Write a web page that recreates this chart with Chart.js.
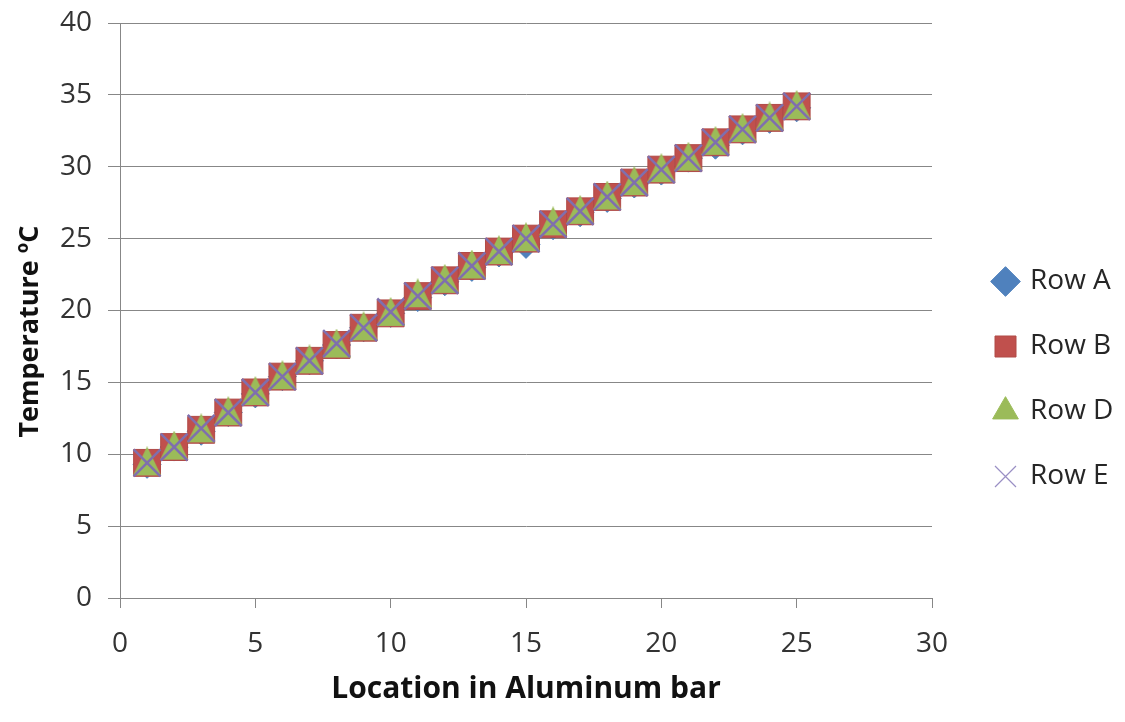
<!DOCTYPE html>
<html>
<head>
<meta charset="utf-8">
<script src="https://cdn.jsdelivr.net/npm/chart.js@4"></script>
<style>
  html, body { margin: 0; padding: 0; background: #fff; }
</style>
</head>
<body>
<canvas id="myChart" width="1125" height="722"></canvas>
<script>
'use strict';

// location along the bar
var locations = [1, 2, 3, 4, 5, 6, 7, 8, 9, 10, 11, 12, 13, 14, 15, 16, 17, 18, 19, 20, 21, 22, 23, 24, 25];

// temperatures per row (deg C)
var rowA = [9.3, 10.5, 11.6, 12.9, 14.2, 15.4, 16.5, 17.6, 18.8, 19.8, 20.9, 22.0, 23.0, 24.0, 24.6, 25.9, 26.8, 27.8, 28.8, 29.7, 30.6, 31.5, 32.5, 33.3, 34.1];
var rowB = [9.4, 10.5, 11.7, 12.9, 14.3, 15.4, 16.5, 17.6, 18.8, 19.8, 21.0, 22.1, 23.1, 24.1, 25.0, 26.0, 26.9, 27.9, 28.9, 29.8, 30.6, 31.7, 32.6, 33.4, 34.2];
var rowD = [9.5, 10.6, 11.8, 13.0, 14.4, 15.5, 16.6, 17.7, 18.9, 19.9, 21.2, 22.2, 23.2, 24.2, 25.1, 26.2, 27.0, 28.0, 29.0, 29.9, 30.7, 31.8, 32.7, 33.5, 34.3];
var rowE = [9.4, 10.5, 11.8, 12.9, 14.3, 15.4, 16.5, 17.7, 18.8, 19.9, 21.0, 22.1, 23.1, 24.1, 25.0, 26.0, 26.9, 27.9, 28.9, 29.8, 30.6, 31.7, 32.6, 33.4, 34.2];

var seriesNames = ['Row A', 'Row B', 'Row D', 'Row E'];
var colors = ['#4F81BD', '#C0504D', '#9BBB59', '#7F6FAE'];

// axis ticks
var xTicks = { min: 0, max: 30, step: 5 };
var yTicks = { min: 0, max: 40, step: 5 };

function points(ys) {
    return locations.map(function (x, i) { return { x: x, y: ys[i] }; });
}

// excel-like triangle marker (base sits at the bottom of the box)
var tri = document.createElement('canvas');
tri.width = 28;
tri.height = 30;
var tctx = tri.getContext('2d');
tctx.fillStyle = colors[2];
tctx.beginPath();
tctx.moveTo(14, 0);
tctx.lineTo(28, 29);
tctx.lineTo(0, 29);
tctx.closePath();
tctx.fill();

var tickFont = { family: 'Open Sans', size: 28, lineHeight: 1 };

// fixes the plot box and moves the legend where it sits in the original
var placeLegend = {
    id: 'placeLegend',
    beforeUpdate: function (chart) {
        var lg = chart.legend;
        if (lg && !lg._fixedFit) {
            var fit = lg.fit;
            lg.fit = function () {
                fit.call(this);
                this.width = 1125 - 932;
            };
            lg._fixedFit = true;
        }
    },
    afterLayout: function (chart) {
        var lg = chart.legend;
        lg.left += 26;
        lg.top += 14;
        lg.bottom += 14;
    }
};

var ctx = document.getElementById('myChart').getContext('2d');
var chart = new Chart(ctx, {
    type: 'scatter',
    data: {
        datasets: [{
            label: seriesNames[0],
            data: points(rowA),
            pointStyle: 'rectRot',
            pointRadius: 14,
            backgroundColor: colors[0],
            borderColor: colors[0],
            borderWidth: 1,
            order: 4
        }, {
            label: seriesNames[1],
            data: points(rowB),
            pointStyle: 'rect',
            pointRadius: 19,
            backgroundColor: colors[1],
            borderColor: '#B04A47',
            borderWidth: 1,
            order: 3
        }, {
            label: seriesNames[2],
            data: points(rowD),
            pointStyle: tri,
            pointRadius: 15,
            backgroundColor: colors[2],
            borderColor: colors[2],
            order: 2
        }, {
            label: seriesNames[3],
            data: points(rowE),
            pointStyle: 'crossRot',
            pointRadius: 19,
            backgroundColor: colors[3],
            borderColor: colors[3],
            borderWidth: 2.5,
            order: 1
        }]
    },
    options: {
        responsive: false,
        animation: false,
        layout: { padding: { left: 10, right: 0, top: 23, bottom: 15 } },
        plugins: {
            tooltip: { enabled: false },
            legend: {
                position: 'right',
                labels: {
                    usePointStyle: true,
                    boxWidth: 21,
                    boxHeight: 21,
                    padding: 37,
                    color: '#262626',
                    font: { family: 'Open Sans', size: 28 },
                    sort: function (a, b) { return a.datasetIndex - b.datasetIndex; },
                    generateLabels: function (chart) {
                        var items = Chart.defaults.plugins.legend.labels.generateLabels(chart);
                        items.forEach(function (it) {
                            if (it.datasetIndex === 2) it.pointStyle = 'triangle';
                            if (it.datasetIndex === 3) { it.lineWidth = 1.2; it.strokeStyle = '#9A8FC4'; }
                            if (it.datasetIndex === 0) it.rotation = 0;
                        });
                        return items;
                    }
                }
            }
        },
        scales: {
            x: {
                type: 'linear',
                min: xTicks.min,
                max: xTicks.max,
                afterFit: function (scale) { scale.height = 722 - 15 - 598; },
                ticks: { stepSize: xTicks.step, color: '#333', font: tickFont, padding: 22 },
                grid: { drawOnChartArea: false, drawTicks: true, tickLength: 10, color: '#878787' },
                border: { color: '#878787' },
                title: {
                    display: true,
                    text: 'Location in Aluminum bar',
                    color: '#111',
                    font: { family: 'Open Sans', size: 30, weight: 'bold' },
                    padding: { top: 0, bottom: 0 }
                }
            },
            y: {
                min: yTicks.min,
                max: yTicks.max,
                afterFit: function (scale) {
                    scale.width = 120 - 10;
                    scale.paddingTop = 0;
                    scale.paddingBottom = 0;
                },
                ticks: { stepSize: yTicks.step, color: '#333', font: tickFont, padding: 16 },
                grid: { color: '#878787', tickLength: 12 },
                border: { color: '#878787' },
                title: {
                    display: true,
                    text: 'Temperature ºC\u00A0\u00A0\u00A0\u00A0\u00A0\u00A0',
                    color: '#111',
                    font: { family: 'Open Sans', size: 27, weight: 'bold' },
                    padding: { top: 4, bottom: 0 }
                }
            }
        }
    },
    plugins: [placeLegend]
});
</script>
</body>
</html>
